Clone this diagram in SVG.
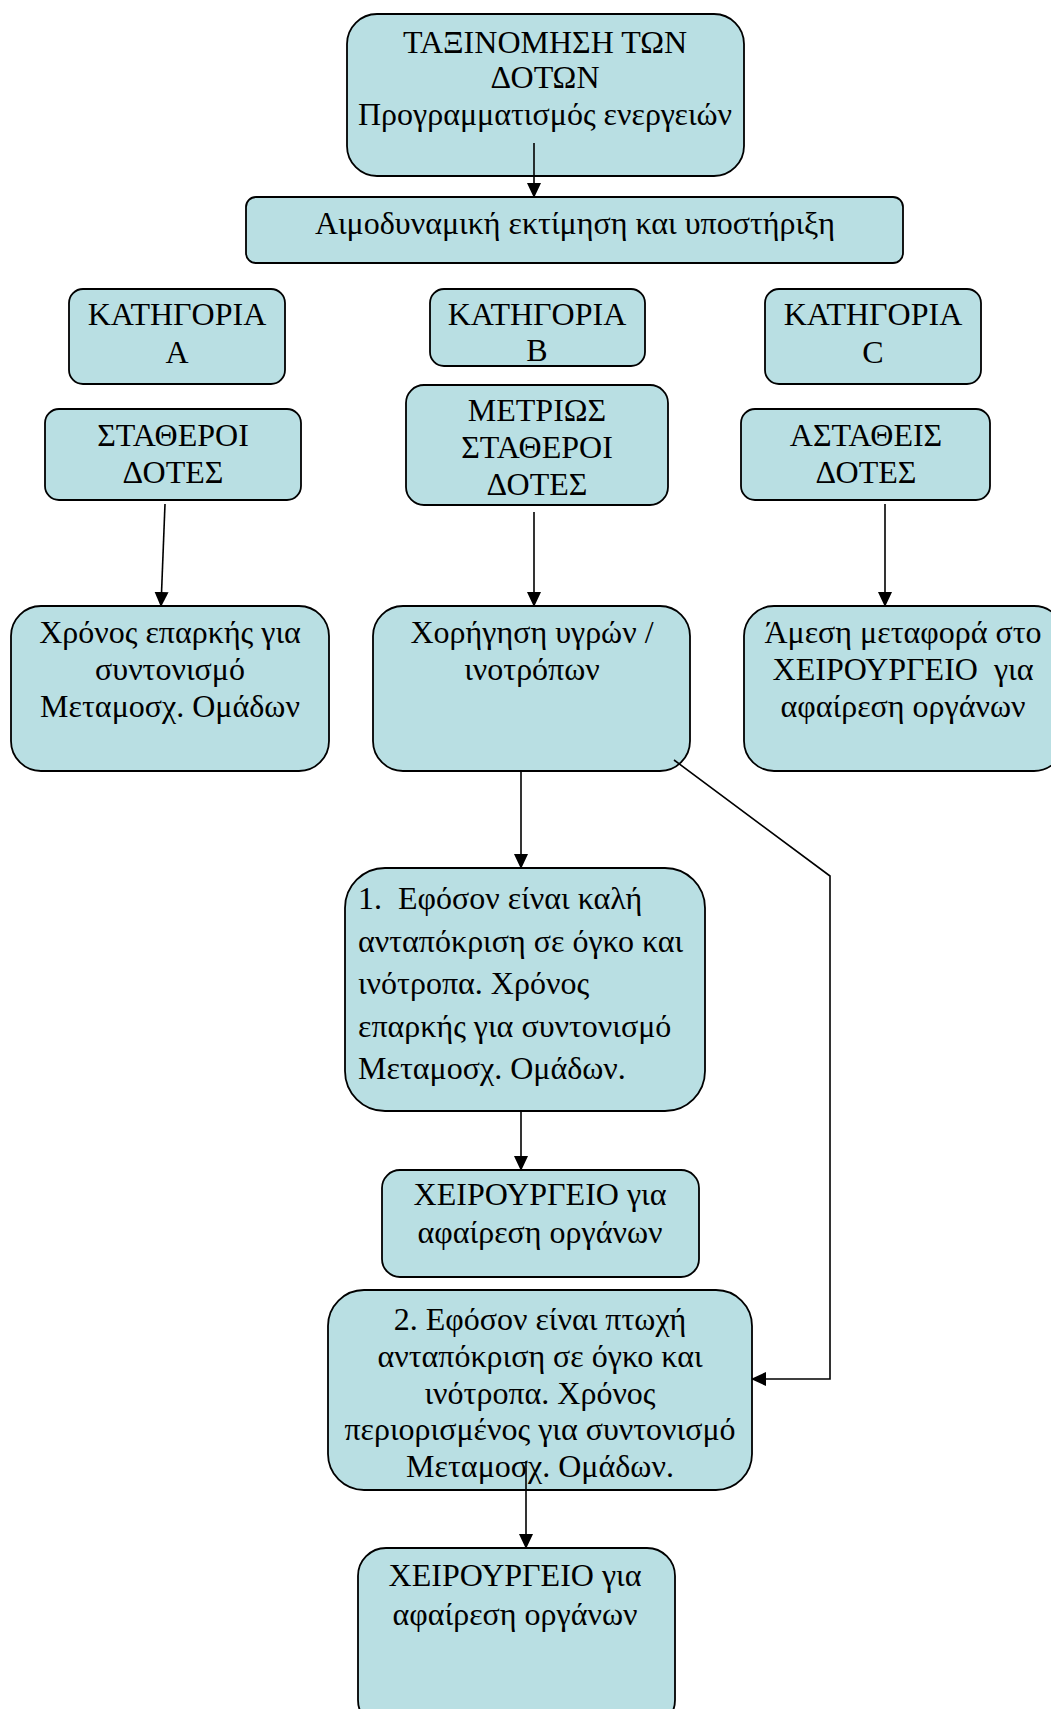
<svg xmlns="http://www.w3.org/2000/svg" width="1051" height="1709" viewBox="0 0 1051 1709">
<style>
.box{fill:#B9DFE3;stroke:#000;stroke-width:1.8}
.t{font-family:"Liberation Serif","Times New Roman",serif;font-size:32px;fill:#000}
.c{text-anchor:middle}
.ln{fill:none;stroke:#000;stroke-width:1.6}
</style>
<defs>
<marker id="ah" markerUnits="userSpaceOnUse" markerWidth="14" markerHeight="17" refX="14" refY="7" orient="auto">
<path d="M0,0 L15,7 L0,14 Z" fill="#000"/>
</marker>
</defs>
<rect width="1051" height="1709" fill="#fff"/>

<g id="n-top">
<rect class="box" x="347" y="14" width="397" height="162" rx="30"/>
<text class="t c" x="545" y="53">ΤΑΞΙΝΟΜΗΣΗ ΤΩΝ</text>
<text class="t c" x="545" y="88">ΔΟΤΩΝ</text>
<text class="t c" x="545" y="125">Προγραμματισμός ενεργειών</text>
</g>
<g id="n-haemo">
<rect class="box" x="246" y="197" width="657" height="66" rx="10"/>
<text class="t c" x="575" y="234">Αιμοδυναμική εκτίμηση και υποστήριξη</text>
</g>
<g id="n-catA">
<rect class="box" x="69" y="289" width="216" height="95" rx="14"/>
<text class="t c" x="177" y="325">ΚΑΤΗΓΟΡΙΑ</text>
<text class="t c" x="177" y="363">Α</text>
</g>
<g id="n-catB">
<rect class="box" x="430" y="289" width="215" height="77" rx="14"/>
<text class="t c" x="537" y="325">ΚΑΤΗΓΟΡΙΑ</text>
<text class="t c" x="537" y="361">Β</text>
</g>
<g id="n-catC">
<rect class="box" x="765" y="289" width="216" height="95" rx="14"/>
<text class="t c" x="873" y="325">ΚΑΤΗΓΟΡΙΑ</text>
<text class="t c" x="873" y="363">C</text>
</g>
<g id="n-stable">
<rect class="box" x="45" y="409" width="256" height="91" rx="14"/>
<text class="t c" x="173" y="446">ΣΤΑΘΕΡΟΙ</text>
<text class="t c" x="173" y="483">ΔΟΤΕΣ</text>
</g>
<g id="n-moderate">
<rect class="box" x="406" y="385" width="262" height="120" rx="18"/>
<text class="t c" x="537" y="421">ΜΕΤΡΙΩΣ</text>
<text class="t c" x="537" y="458">ΣΤΑΘΕΡΟΙ</text>
<text class="t c" x="537" y="495">ΔΟΤΕΣ</text>
</g>
<g id="n-unstable">
<rect class="box" x="741" y="409" width="249" height="91" rx="14"/>
<text class="t c" x="866" y="446">ΑΣΤΑΘΕΙΣ</text>
<text class="t c" x="866" y="483">ΔΟΤΕΣ</text>
</g>
<g id="n-time">
<rect class="box" x="11" y="606" width="318" height="165" rx="30"/>
<text class="t c" x="170" y="643">Χρόνος επαρκής για</text>
<text class="t c" x="170" y="680">συντονισμό</text>
<text class="t c" x="170" y="717">Μεταμοσχ. Ομάδων</text>
</g>
<g id="n-fluids">
<rect class="box" x="373" y="606" width="317" height="165" rx="30"/>
<text class="t c" x="532" y="643">Χορήγηση υγρών /</text>
<text class="t c" x="532" y="680">ινοτρόπων</text>
</g>
<g id="n-immediate">
<rect class="box" x="744" y="606" width="320" height="165" rx="30"/>
<text class="t c" x="903" y="643">Άμεση μεταφορά στο</text>
<text class="t c" x="903" y="680" xml:space="preserve">ΧΕΙΡΟΥΡΓΕΙΟ  για</text>
<text class="t c" x="903" y="717">αφαίρεση οργάνων</text>
</g>
<g id="n-good">
<rect class="box" x="345" y="868" width="360" height="243" rx="40"/>
<text class="t" x="358" y="909" xml:space="preserve">1.  Εφόσον είναι καλή</text>
<text class="t" x="358" y="952">ανταπόκριση σε όγκο και</text>
<text class="t" x="358" y="994">ινότροπα. Χρόνος</text>
<text class="t" x="358" y="1037">επαρκής για συντονισμό</text>
<text class="t" x="358" y="1079">Μεταμοσχ. Ομάδων.</text>
</g>
<g id="n-or1">
<rect class="box" x="382" y="1170" width="317" height="107" rx="18"/>
<text class="t c" x="540" y="1205">ΧΕΙΡΟΥΡΓΕΙΟ για</text>
<text class="t c" x="540" y="1243">αφαίρεση οργάνων</text>
</g>
<g id="n-poor">
<rect class="box" x="328" y="1290" width="424" height="200" rx="36"/>
<text class="t c" x="540" y="1330">2. Εφόσον είναι πτωχή</text>
<text class="t c" x="540" y="1367">ανταπόκριση σε όγκο και</text>
<text class="t c" x="540" y="1404">ινότροπα. Χρόνος</text>
<text class="t c" x="540" y="1440">περιορισμένος για συντονισμό</text>
<text class="t c" x="540" y="1477">Μεταμοσχ. Ομάδων.</text>
</g>
<g id="n-or2">
<rect class="box" x="358" y="1548" width="317" height="180" rx="28"/>
<text class="t c" x="515" y="1586">ΧΕΙΡΟΥΡΓΕΙΟ για</text>
<text class="t c" x="515" y="1625">αφαίρεση οργάνων</text>
</g>

<g id="connectors">
<path class="ln" d="M534,143 L534,197" marker-end="url(#ah)"/>
<path class="ln" d="M165,504 L161,606" marker-end="url(#ah)"/>
<path class="ln" d="M534,512 L534,606" marker-end="url(#ah)"/>
<path class="ln" d="M885,504 L885,606" marker-end="url(#ah)"/>
<path class="ln" d="M521,771 L521,868" marker-end="url(#ah)"/>
<path class="ln" d="M674,760 L830,876 L830,1379 L752,1379" marker-end="url(#ah)"/>
<path class="ln" d="M521,1111 L521,1170" marker-end="url(#ah)"/>
<path class="ln" d="M526,1461 L526,1548" marker-end="url(#ah)"/>
</g>
</svg>
